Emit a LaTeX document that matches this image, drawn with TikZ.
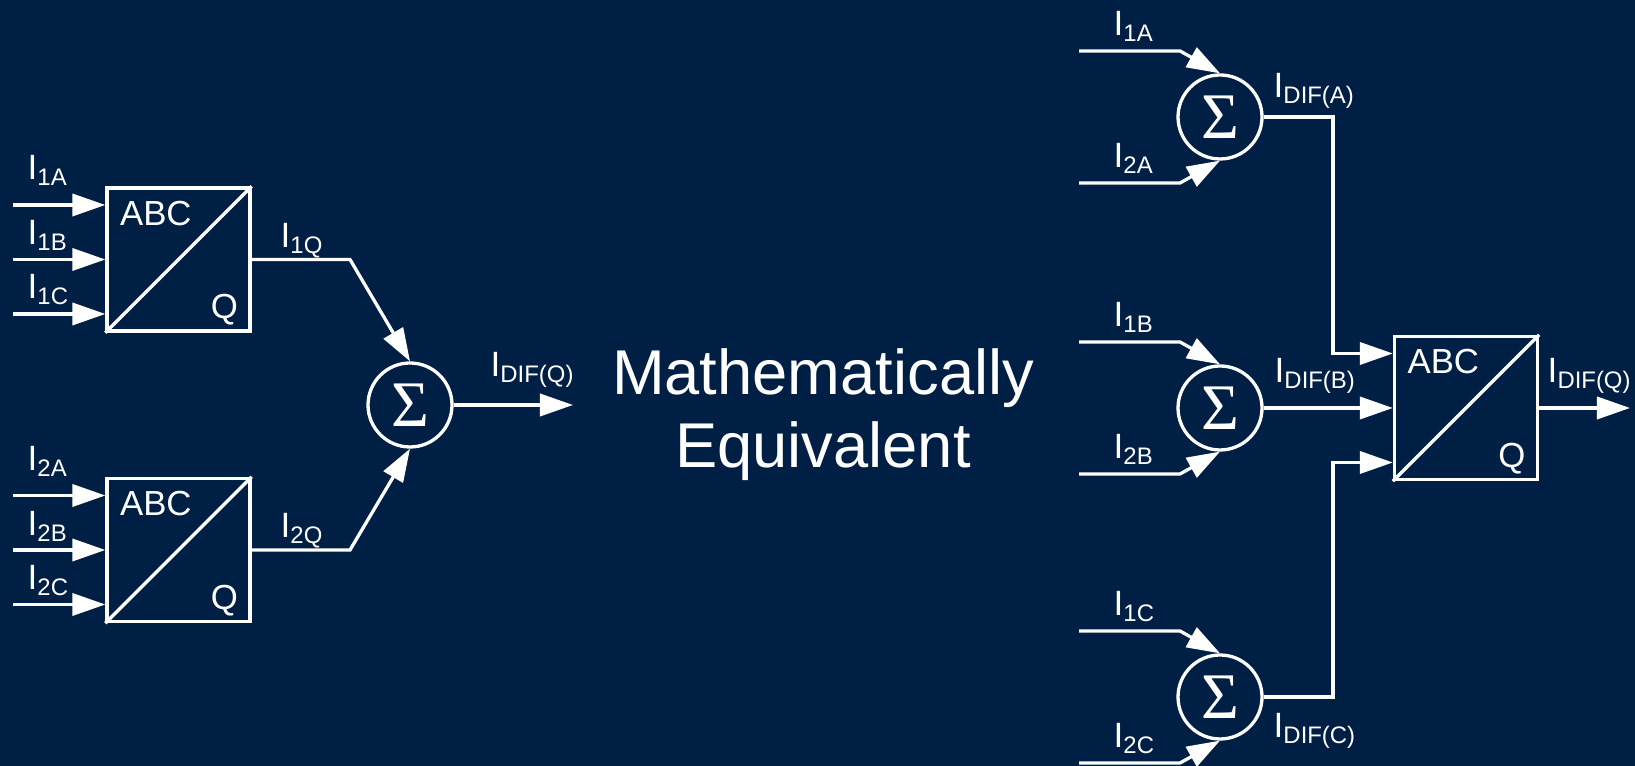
\documentclass[tikz,border=0pt]{standalone}
\usepackage{fontspec}
\setmainfont{Liberation Sans}
\newfontfamily\sigmafont{Liberation Serif}
\usetikzlibrary{positioning,calc}
\usetikzlibrary{arrows.meta}
\definecolor{NavyBg}{RGB}{0,31,68}
\newcommand\Icur[1]{I\raisebox{-1.7pt}{\fontsize{6.8}{8}\selectfont #1}}
\tikzset{
	wire/.style={draw=white,line width=0.94pt},
	arr/.style={wire,-{Triangle[length=9.4pt,width=6.3pt]}},
	blk/.style={draw=white,line width=0.94pt,minimum size=1.43cm,inner sep=0pt},
	sum/.style={circle,draw=white,line width=0.94pt,minimum size=0.84cm,inner sep=0pt,
		text=white,font=\sigmafont\fontsize{18.5}{18.5}\selectfont},
	lbl/.style={text=white,anchor=base west,inner sep=0pt,font=\fontsize{10}{12}\selectfont},
	blktxt/.style={text=white,inner sep=0pt,font=\fontsize{9.9}{12}\selectfont},
}

\begin{document}
\begin{tikzpicture}
	\fill[NavyBg] (0,0) rectangle (16.35,7.66);
	\useasboundingbox (0,0) rectangle (16.35,7.66);
	% left: two converters and one sum
	\node[blk] (b1) at (1.785,5.065) {};
	\node[blk] (b2) at (1.785,2.16) {};
	\draw[wire] (b1.south west)--(b1.north east);
	\draw[wire] (b2.south west)--(b2.north east);
	\node[blktxt,anchor=base west] (b1abc) at ($(b1.north west)+(0.14,-0.39)$) {ABC};
	\node[blktxt,anchor=base east] (b1q) at ($(b1.south east)+(-0.13,0.14)$) {Q};
	\node[blktxt,anchor=base west] (b2abc) at ($(b2.north west)+(0.14,-0.39)$) {ABC};
	\node[blktxt,anchor=base east] (b2q) at ($(b2.south east)+(-0.13,0.14)$) {Q};
	\coordinate (in1a) at (0.13,5.61);
	\coordinate (in1b) at (0.13,5.065);
	\coordinate (in1c) at (0.13,4.52);
	\coordinate (in2a) at (0.13,2.705);
	\coordinate (in2b) at (0.13,2.16);
	\coordinate (in2c) at (0.13,1.615);
	\draw[arr] (in1a)--(in1a -| b1.west);
	\draw[arr] (in1b)--(in1b -| b1.west);
	\draw[arr] (in1c)--(in1c -| b1.west);
	\draw[arr] (in2a)--(in2a -| b2.west);
	\draw[arr] (in2b)--(in2b -| b2.west);
	\draw[arr] (in2c)--(in2c -| b2.west);
	\node[lbl] (l1a) at (0.27,5.86) {\Icur{1A}};
	\node[lbl] (l1b) at (0.27,5.21) {\Icur{1B}};
	\node[lbl] (l1c) at (0.27,4.67) {\Icur{1C}};
	\node[lbl] (l2a) at (0.27,2.955) {\Icur{2A}};
	\node[lbl] (l2b) at (0.27,2.305) {\Icur{2B}};
	\node[lbl] (l2c) at (0.27,1.765) {\Icur{2C}};
	\node[sum] (s1) at (4.10,3.61) {Σ};
	\coordinate (k1) at (3.50,5.065);
	\coordinate (k2) at (3.50,2.16);
	\coordinate (o1) at (5.73,3.61);
	\draw[arr] (b1.east)--(k1)--(s1.north);
	\draw[arr] (b2.east)--(k2)--(s1.south);
	\draw[arr] (s1.east)--(o1);
	\node[lbl] (l1q) at (2.80,5.18) {\Icur{1Q}};
	\node[lbl] (l2q) at (2.80,2.28) {\Icur{2Q}};
	\node[lbl] (ldq) at (4.90,3.89) {\Icur{DIF(Q)}};
	% middle text
	\node[text=white,align=center,inner sep=0pt,font=\fontsize{18}{20.8}\selectfont] (mtxt) at (8.23,3.51) {Mathematically\\Equivalent};
	% right: three sums and one converter
	\node[sum] (sA) at (12.20,6.49) {Σ};
	\node[sum] (sB) at (12.20,3.58) {Σ};
	\node[sum] (sC) at (12.20,0.69) {Σ};
	\coordinate (inA1) at (10.79,7.15);
	\coordinate (kA1) at (11.80,7.15);
	\coordinate (inA2) at (10.79,5.83);
	\coordinate (kA2) at (11.80,5.83);
	\coordinate (inB1) at (10.79,4.24);
	\coordinate (kB1) at (11.80,4.24);
	\coordinate (inB2) at (10.79,2.92);
	\coordinate (kB2) at (11.80,2.92);
	\coordinate (inC1) at (10.79,1.35);
	\coordinate (kC1) at (11.80,1.35);
	\coordinate (inC2) at (10.79,0.03);
	\coordinate (kC2) at (11.80,0.03);
	\draw[arr] (inA1)--(kA1)--(sA.north);
	\draw[arr] (inA2)--(kA2)--(sA.south);
	\draw[arr] (inB1)--(kB1)--(sB.north);
	\draw[arr] (inB2)--(kB2)--(sB.south);
	\draw[arr] (inC1)--(kC1)--(sC.north);
	\draw[arr] (inC2)--(kC2)--(sC.south);
	\node[lbl] (rA1) at (11.13,7.305) {\Icur{1A}};
	\node[lbl] (rA2) at (11.13,5.985) {\Icur{2A}};
	\node[lbl] (rB1) at (11.13,4.395) {\Icur{1B}};
	\node[lbl] (rB2) at (11.13,3.075) {\Icur{2B}};
	\node[lbl] (rC1) at (11.13,1.505) {\Icur{1C}};
	\node[lbl] (rC2) at (11.13,0.185) {\Icur{2C}};
	\node[blk] (bQ) at (14.66,3.58) {};
	\draw[wire] (bQ.south west)--(bQ.north east);
	\node[blktxt,anchor=base west] (bQabc) at ($(bQ.north west)+(0.14,-0.39)$) {ABC};
	\node[blktxt,anchor=base east] (bQq) at ($(bQ.south east)+(-0.13,0.14)$) {Q};
	\coordinate (qa) at ($(bQ.west)+(0,0.545)$);
	\coordinate (qc) at ($(bQ.west)+(0,-0.545)$);
	\coordinate (jA) at (13.33,6.49);
	\coordinate (jC) at (13.33,0.69);
	\coordinate (oQ) at (16.30,3.58);
	\draw[arr] (sA.east)--(jA)|-(qa);
	\draw[arr] (sB.east)--(bQ.west);
	\draw[arr] (sC.east)--(jC)|-(qc);
	\draw[arr] (bQ.east)--(oQ);
	\node[lbl] (ldA) at (12.73,6.68) {\Icur{DIF(A)}};
	\node[lbl] (ldB) at (12.74,3.83) {\Icur{DIF(B)}};
	\node[lbl] (ldC) at (12.73,0.28) {\Icur{DIF(C)}};
	\node[lbl] (ldQ2) at (15.47,3.83) {\Icur{DIF(Q)}};
\end{tikzpicture}
\end{document}
